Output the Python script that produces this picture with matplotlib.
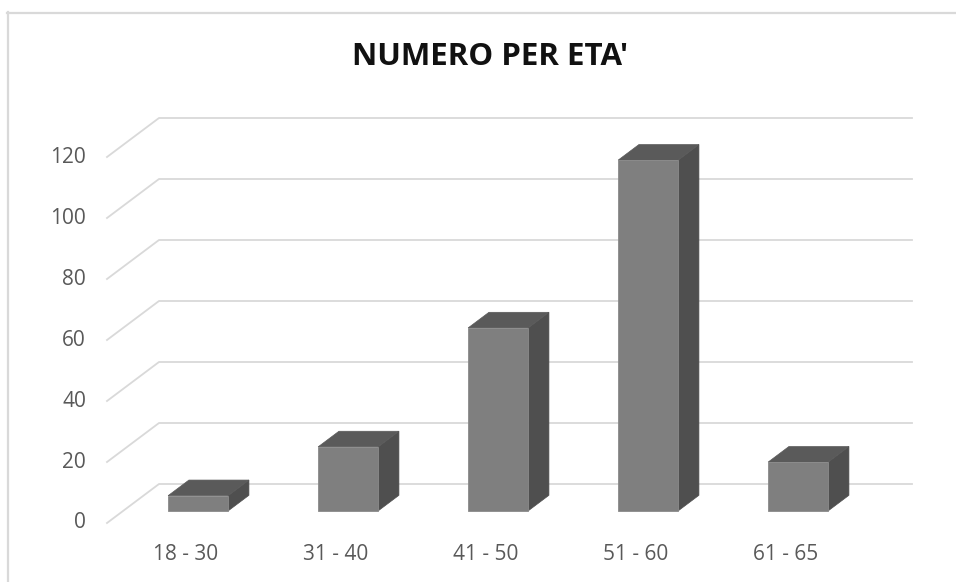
import numpy as np
import matplotlib.pyplot as plt
from matplotlib.patches import Polygon
from matplotlib.lines import Line2D

# data
categories = ['18 - 30', '31 - 40', '41 - 50', '51 - 60', '61 - 65']
values = [5, 21, 60, 115, 16]
y_ticks = [0, 20, 40, 60, 80, 100, 120]

plt.rcParams['font.family'] = ['Open Sans', 'DejaVu Sans']

# pixel scale of the plot: one category = 150 px, one unit = 3.05 px
cat_px = 150.0
unit_px = 3.05
# oblique depth of the floor / back wall
DX = 52 / cat_px
DY = 39 / unit_px

fig = plt.figure(figsize=(9.56, 5.82), dpi=100)
W, H = 956, 582

# chart frame (only left and top edges fall inside the image)
fig.add_artist(Line2D([7.5 / W, 7.5 / W], [0, 1 - 12 / H], color='#d9d9d9', lw=1.6))
fig.add_artist(Line2D([7 / W, 1], [1 - 12.5 / H, 1 - 12.5 / H], color='#d9d9d9', lw=1.6))

left, right, bottom, top = 107, 912, 523, 118
ax = fig.add_axes([left / W, 1 - bottom / H, (right - left) / W, (bottom - top) / H])
ax.set_xlim(-0.5, -0.5 + (right - left) / cat_px)
ax.set_ylim(0, (bottom - top) / unit_px)
ax.axis('off')
xmax = ax.get_xlim()[1]

# gridlines: front edge slanting to the back wall, then across
for v in y_ticks:
    ax.plot([-0.5, -0.5 + DX, xmax], [v, v + DY, v + DY],
            color='#d9d9d9', lw=1.3, zorder=1, clip_on=False)
    ax.text(-0.5 - 21 / cat_px, v, str(v), ha='right', va='center',
            fontsize=15, color='#595959')

# 3d columns
d0, d1 = 0.31, 0.71
dd = d1 - d0
w = 60 / cat_px
for i, h in enumerate(values):
    x0 = i + d0 * DX - w / 2
    y0 = d0 * DY
    front = [(x0, y0), (x0 + w, y0), (x0 + w, y0 + h), (x0, y0 + h)]
    topf = [(x0, y0 + h), (x0 + w, y0 + h),
            (x0 + w + dd * DX, y0 + h + dd * DY), (x0 + dd * DX, y0 + h + dd * DY)]
    side = [(x0 + w, y0), (x0 + w + dd * DX, y0 + dd * DY),
            (x0 + w + dd * DX, y0 + h + dd * DY), (x0 + w, y0 + h)]
    ax.add_patch(Polygon(side, closed=True, fc='#4f4f4f', ec='#4f4f4f', lw=0.5, zorder=3))
    ax.add_patch(Polygon(topf, closed=True, fc='#5a5a5a', ec='#5a5a5a', lw=0.5, zorder=3))
    ax.add_patch(Polygon(front, closed=True, fc='#7f7f7f', ec='#8a8a8a', lw=0.6, zorder=4))

# category labels along the front edge
for i, c in enumerate(categories):
    ax.text(i + 0.023, -31 / unit_px, c, ha='center', va='center',
            fontsize=15, color='#595959', clip_on=False)

fig.text(490 / W, 1 - 57 / H, "NUMERO PER ETA'", ha='center', va='center',
         fontsize=22.5, fontweight='bold', color='#111111')

plt.savefig('out.png', dpi=100, facecolor='white')
